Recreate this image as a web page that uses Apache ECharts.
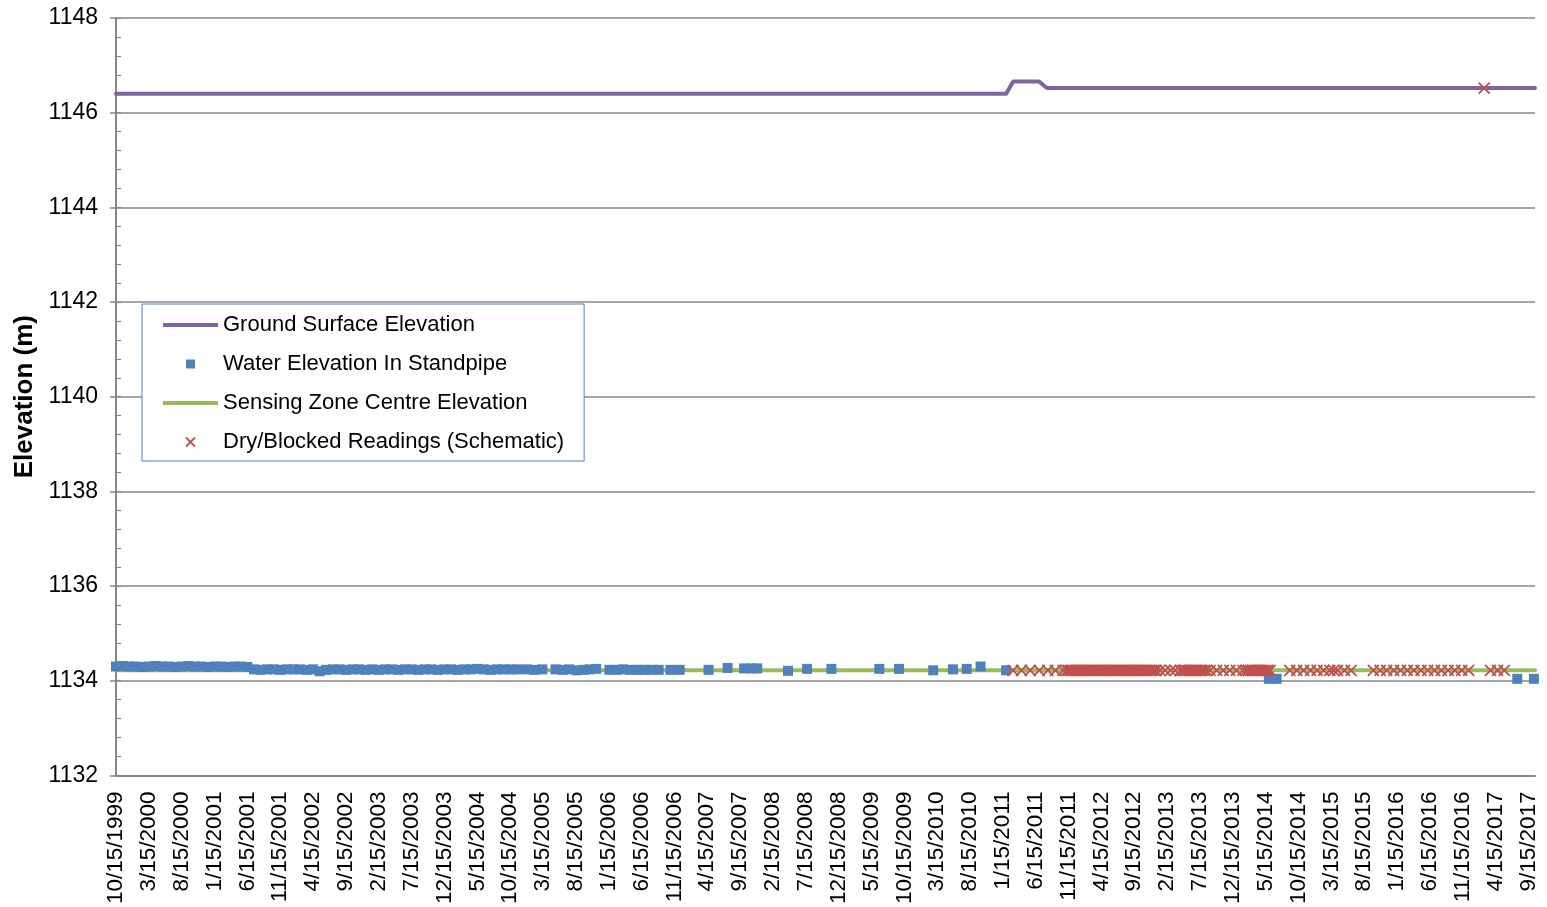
<!DOCTYPE html>
<html><head><meta charset="utf-8">
<script src="https://cdn.jsdelivr.net/npm/echarts@6/dist/echarts.min.js"></script>
<style>html,body{margin:0;padding:0;background:#fff}#chart{width:1547px;height:907px}</style>
</head><body><div id="chart"></div>
<script>
const xTickLabels = ['10/15/1999','3/15/2000','8/15/2000','1/15/2001','6/15/2001','11/15/2001','4/15/2002','9/15/2002','2/15/2003','7/15/2003','12/15/2003','5/15/2004','10/15/2004','3/15/2005','8/15/2005','1/15/2006','6/15/2006','11/15/2006','4/15/2007','9/15/2007','2/15/2008','7/15/2008','12/15/2008','5/15/2009','10/15/2009','3/15/2010','8/15/2010','1/15/2011','6/15/2011','11/15/2011','4/15/2012','9/15/2012','2/15/2013','7/15/2013','12/15/2013','5/15/2014','10/15/2014','3/15/2015','8/15/2015','1/15/2016','6/15/2016','11/15/2016','4/15/2017','9/15/2017'];

const groundSurface = [['1999-10-15',1146.40],['2011-01-30',1146.40],['2011-03-02',1146.66],['2011-06-30',1146.66],['2011-08-06',1146.52],['2017-10-15',1146.52]];
const sensingZone = [['1999-10-15',1134.22],['2017-10-15',1134.22]];

const waterReadings = [
['1999-10-15',1134.30],['1999-11-15',1134.31],['1999-12-15',1134.30],['2000-01-15',1134.30],['2000-02-15',1134.29],['2000-03-15',1134.30],['2000-04-15',1134.31],['2000-05-15',1134.30],['2000-06-15',1134.30],['2000-07-15',1134.29],['2000-08-15',1134.30],['2000-09-15',1134.31],['2000-10-15',1134.30],['2000-11-15',1134.30],['2000-12-15',1134.29],['2001-01-15',1134.30],['2001-02-15',1134.30],['2001-03-15',1134.29],['2001-04-15',1134.30],['2001-05-15',1134.30],['2001-06-15',1134.29],
['2001-07-15',1134.24],['2001-08-15',1134.23],['2001-09-15',1134.24],['2001-10-15',1134.24],['2001-11-15',1134.23],['2001-12-15',1134.24],
['2002-01-15',1134.24],['2002-02-15',1134.24],['2002-03-15',1134.23],['2002-04-15',1134.24],['2002-05-15',1134.20],['2002-06-15',1134.23],['2002-07-15',1134.24],['2002-08-15',1134.24],['2002-09-15',1134.23],['2002-10-15',1134.24],['2002-11-15',1134.24],['2002-12-15',1134.23],
['2003-01-15',1134.24],['2003-02-15',1134.23],['2003-03-15',1134.24],['2003-04-15',1134.24],['2003-05-15',1134.23],['2003-06-15',1134.24],['2003-07-15',1134.24],['2003-08-15',1134.23],['2003-09-15',1134.24],['2003-10-15',1134.24],['2003-11-15',1134.23],['2003-12-15',1134.24],
['2004-01-15',1134.24],['2004-02-15',1134.23],['2004-03-15',1134.24],['2004-04-15',1134.24],['2004-05-15',1134.25],['2004-06-15',1134.24],['2004-07-15',1134.23],['2004-08-15',1134.24],['2004-09-15',1134.24],['2004-10-15',1134.24],
['2004-11-16',1134.24],['2004-12-30',1134.24],['2005-02-05',1134.23],['2005-03-12',1134.24],['2005-05-12',1134.24],['2005-06-15',1134.23],['2005-07-15',1134.24],['2005-08-18',1134.22],['2005-09-21',1134.23],['2005-10-18',1134.24],['2005-11-18',1134.25],
['2006-01-18',1134.23],['2006-02-21',1134.23],['2006-03-21',1134.24],['2006-04-24',1134.23],['2006-05-27',1134.23],['2006-06-27',1134.23],['2006-08-01',1134.23],['2006-09-03',1134.23],['2006-10-27',1134.23],['2006-12-09',1134.23],
['2007-04-21',1134.23],['2007-07-18',1134.27],['2007-10-03',1134.26],['2007-11-06',1134.26],['2007-12-03',1134.26],['2008-04-24',1134.21],['2008-07-21',1134.25],['2008-11-12',1134.25],
['2009-06-21',1134.25],['2009-09-21',1134.25],['2010-02-27',1134.22],['2010-05-27',1134.24],['2010-07-30',1134.25],['2010-10-03',1134.30],['2011-01-30',1134.22],
['2014-05-30',1134.04],['2014-07-05',1134.04],['2017-07-24',1134.04],['2017-10-10',1134.04]
];

const dryReadings = [
['2011-03-01',1134.22],['2011-04-10',1134.22],['2011-05-20',1134.22],['2011-07-01',1134.22],['2011-08-10',1134.22],['2011-09-15',1134.22],['2011-10-20',1134.22],
['2011-11-05',1134.22],['2011-11-15',1134.22],['2011-11-25',1134.22],['2011-12-05',1134.22],['2011-12-15',1134.22],['2011-12-25',1134.22],
['2012-01-05',1134.22],['2012-01-15',1134.22],['2012-01-25',1134.22],['2012-02-05',1134.22],['2012-02-15',1134.22],['2012-02-25',1134.22],
['2012-03-05',1134.22],['2012-03-15',1134.22],['2012-03-25',1134.22],['2012-04-05',1134.22],['2012-04-15',1134.22],['2012-04-25',1134.22],
['2012-05-05',1134.22],['2012-05-15',1134.22],['2012-05-25',1134.22],['2012-06-05',1134.22],['2012-06-15',1134.22],['2012-06-25',1134.22],
['2012-07-05',1134.22],['2012-07-15',1134.22],['2012-07-25',1134.22],['2012-08-05',1134.22],['2012-08-15',1134.22],['2012-08-25',1134.22],
['2012-09-05',1134.22],['2012-09-15',1134.22],['2012-09-25',1134.22],['2012-10-05',1134.22],['2012-10-15',1134.22],['2012-10-25',1134.22],
['2012-11-05',1134.22],['2012-11-15',1134.22],['2012-11-25',1134.22],['2012-12-05',1134.22],['2012-12-15',1134.22],['2012-12-25',1134.22],
['2013-01-12',1134.22],['2013-02-05',1134.22],['2013-03-01',1134.22],['2013-03-22',1134.22],
['2013-04-15',1134.22],['2013-04-25',1134.22],['2013-05-05',1134.22],['2013-05-15',1134.22],['2013-05-25',1134.22],['2013-06-05',1134.22],['2013-06-15',1134.22],['2013-06-25',1134.22],['2013-07-05',1134.22],['2013-07-15',1134.22],['2013-07-25',1134.22],['2013-08-05',1134.22],['2013-08-15',1134.22],
['2013-09-01',1134.22],['2013-10-01',1134.22],['2013-11-01',1134.22],['2013-12-01',1134.22],['2014-01-01',1134.22],['2014-02-01',1134.22],
['2014-02-15',1134.22],['2014-02-25',1134.22],['2014-03-05',1134.22],['2014-03-15',1134.22],['2014-03-25',1134.22],['2014-04-05',1134.22],['2014-04-15',1134.22],['2014-04-25',1134.22],['2014-05-05',1134.22],['2014-05-15',1134.22],['2014-05-25',1134.22],['2014-06-05',1134.22],
['2014-09-05',1134.22],['2014-10-07',1134.22],['2014-11-08',1134.22],['2014-12-10',1134.22],['2015-01-10',1134.22],['2015-02-10',1134.22],['2015-03-08',1134.22],['2015-03-26',1134.22],['2015-04-13',1134.22],['2015-05-15',1134.22],['2015-06-15',1134.22],
['2015-09-27',1134.22],['2015-10-28',1134.22],['2015-11-28',1134.22],['2015-12-30',1134.22],['2016-01-31',1134.22],['2016-03-02',1134.22],['2016-04-02',1134.22],['2016-05-04',1134.22],['2016-06-05',1134.22],['2016-07-06',1134.22],['2016-08-07',1134.22],['2016-09-08',1134.22],['2016-10-09',1134.22],['2016-11-10',1134.22],['2016-12-12',1134.22],
['2017-02-23',1146.52],['2017-03-22',1134.22],['2017-04-24',1134.22],['2017-05-25',1134.22]
];

// convert a date to months since 10/15/1999 (the axis unit)
function monthIndex(s){ const p = s.split('-').map(Number); return (p[0]-1999)*12 + (p[1]-10) + (p[2]-15)/30.44; }
const toXY = arr => arr.map(d => [monthIndex(d[0]), d[1]]);

const FONT = 'Liberation Sans, Arial, sans-serif';
const GRAY = '#878787';
const chart = echarts.init(document.getElementById('chart'), null, {renderer:'canvas'});
chart.setOption({
  animation: false,
  backgroundColor: '#fff',
  textStyle: {fontFamily: FONT},
  grid: {left: 116, right: 12, top: 18, bottom: 131, containLabel: false},
  xAxis: {
    type: 'value', min: 0, max: 216, interval: 5,
    axisLine: {show: true, lineStyle: {color: GRAY, width: 2}},
    axisTick: {show: false},
    splitLine: {show: false},
    axisLabel: {rotate: 90, fontSize: 22.5, color: '#000', margin: 16, fontFamily: FONT,
      formatter: v => (v % 5 === 0 && xTickLabels[v/5]) ? xTickLabels[v/5] : ''}
  },
  yAxis: [{
    type: 'value', min: 1132, max: 1148, interval: 2,
    name: 'Elevation (m)', nameLocation: 'middle', nameGap: 76,
    nameTextStyle: {fontSize: 26, fontWeight: 'bold', color: '#000', fontFamily: FONT},
    axisLine: {show: true, lineStyle: {color: GRAY, width: 2}},
    axisTick: {show: true, inside: false, length: 6, lineStyle: {color: GRAY, width: 1.5}},
    axisLabel: {fontSize: 23, color: '#000', margin: 18, fontFamily: FONT, formatter: v => String(v)},
    splitLine: {show: true, lineStyle: {color: GRAY, width: 1.5}}
  }, {
    type: 'value', min: 1132, max: 1148, interval: 0.4, position: 'left',
    axisLine: {show: false},
    axisTick: {show: true, inside: true, length: 5, lineStyle: {color: GRAY, width: 1.2}},
    axisLabel: {show: false},
    splitLine: {show: false}
  }],
  legend: {
    orient: 'vertical', left: 142, top: 304,
    padding: [10, 20, 8, 21], itemGap: 17, itemWidth: 55, itemHeight: 9,
    borderColor: '#4F81BD', borderWidth: 1, backgroundColor: '#fff',
    selectedMode: false,
    textStyle: {fontSize: 22, lineHeight: 22, color: '#000', fontFamily: FONT},
    data: [
      {name: 'Ground Surface Elevation', icon: 'path://M0,0H55V4H0Z'},
      {name: 'Water Elevation In Standpipe', icon: 'path://M0,0H9V9H0Z', itemStyle: {opacity: 1}},
      {name: 'Sensing Zone Centre Elevation', icon: 'path://M0,0H55V4H0Z'},
      {name: 'Dry/Blocked Readings (Schematic)', icon: 'path://M0,0L10,10M10,0L0,10', itemStyle: {borderColor: '#C0504D', borderWidth: 1.8, opacity: 1}}
    ]
  },
  series: [
    {name: 'Ground Surface Elevation', type: 'line', symbol: 'none', color: '#8064A2',
     lineStyle: {width: 4, color: '#8064A2', cap: 'round', join: 'round'}, data: toXY(groundSurface), z: 2},
    {name: 'Sensing Zone Centre Elevation', type: 'line', symbol: 'none', color: '#9BBB59',
     lineStyle: {width: 4, color: '#9BBB59', cap: 'round', join: 'round'}, data: toXY(sensingZone), z: 2},
    {name: 'Water Elevation In Standpipe', type: 'scatter', symbol: 'rect', symbolSize: 10, color: '#4F81BD',
     itemStyle: {color: '#4F81BD', opacity: 1}, data: toXY(waterReadings), z: 3},
    {name: 'Dry/Blocked Readings (Schematic)', type: 'scatter', symbol: 'path://M0,0L10,10M10,0L0,10', symbolSize: 11, color: '#C0504D',
     itemStyle: {color: '#C0504D', borderColor: '#C0504D', borderWidth: 1.8, opacity: 1}, data: toXY(dryReadings), z: 4}
  ]
});
</script>
</body></html>
